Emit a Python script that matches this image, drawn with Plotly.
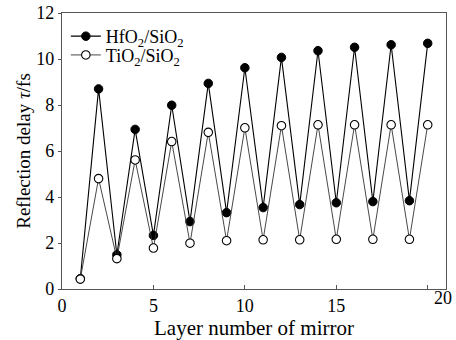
import plotly.graph_objects as go

layers = list(range(1, 21))
hfo2_sio2 = [0.45, 8.70, 1.49, 6.94, 2.33, 7.99, 2.93, 8.94, 3.32, 9.62,
             3.54, 10.07, 3.67, 10.36, 3.75, 10.51, 3.80, 10.62, 3.84, 10.68]
tio2_sio2 = [0.43, 4.80, 1.32, 5.61, 1.78, 6.41, 1.99, 6.81, 2.10, 7.01,
             2.14, 7.10, 2.14, 7.14, 2.16, 7.14, 2.16, 7.14, 2.16, 7.14]
x_ticks = [0, 5, 10, 15, 20]
x_ticktext = ["0", "5", "10", "15", ""]
last_x_label = "20"
y_ticks = [0, 2, 4, 6, 8, 10, 12]

FONT = "Liberation Serif"

fig = go.Figure()
fig.add_trace(go.Scatter(
    x=layers, y=hfo2_sio2, mode="lines+markers",
    name="HfO<sub>2</sub>/SiO<sub>2</sub>", legend="legend",
    line=dict(color="black", width=1.1),
    marker=dict(symbol="circle", size=8.5, color="black",
                line=dict(color="black", width=1)),
))
fig.add_trace(go.Scatter(
    x=layers, y=tio2_sio2, mode="lines+markers",
    name="TiO<sub>2</sub>/SiO<sub>2</sub>", legend="legend2",
    line=dict(color="#333333", width=0.9),
    marker=dict(symbol="circle", size=8.5, color="white",
                line=dict(color="black", width=1.1)),
))

leg_common = dict(x=0.01, xanchor="left", yanchor="top",
                  bgcolor="rgba(0,0,0,0)", font=dict(size=18, family=FONT),
                  itemwidth=30)

fig.update_layout(
    width=456, height=340,
    margin=dict(l=62, r=10, t=13, b=51, autoexpand=False),
    paper_bgcolor="white", plot_bgcolor="white",
    font=dict(family=FONT, size=18, color="black"),
    showlegend=True,
    legend=dict(y=0.982, **leg_common),
    legend2=dict(y=0.914, **leg_common),
    xaxis=dict(range=[0, 21], tickvals=x_ticks, ticktext=x_ticktext,
               ticks="inside", ticklen=4, tickcolor="#555",
               showline=True, linecolor="#555", linewidth=1.2, mirror=True,
               showgrid=False, zeroline=False,
               tickfont=dict(size=18, family=FONT),
               title=dict(text="Layer number of mirror",
                          font=dict(size=21, family=FONT), standoff=0)),
    yaxis=dict(range=[0, 12], tickvals=y_ticks,
               ticks="outside", ticklen=3, tickcolor="#555",
               showline=True, linecolor="#555", linewidth=1.2, mirror=True,
               showgrid=False, zeroline=False,
               tickfont=dict(size=18, family=FONT),
               title=dict(text="Reflection delay <i>τ</i>/fs",
                          font=dict(size=19, family=FONT), standoff=0)),
    annotations=[dict(x=x_ticks[-1], y=0, xref="x", yref="paper",
                      text=last_x_label, showarrow=False,
                      xanchor="center", yanchor="top", xshift=15, yshift=3,
                      font=dict(size=18, family=FONT))],
)

fig.write_html("out.html",
               config={"displayModeBar": False},
               post_script="document.body.style.margin='0';"
                           "document.body.style.padding='0';")
